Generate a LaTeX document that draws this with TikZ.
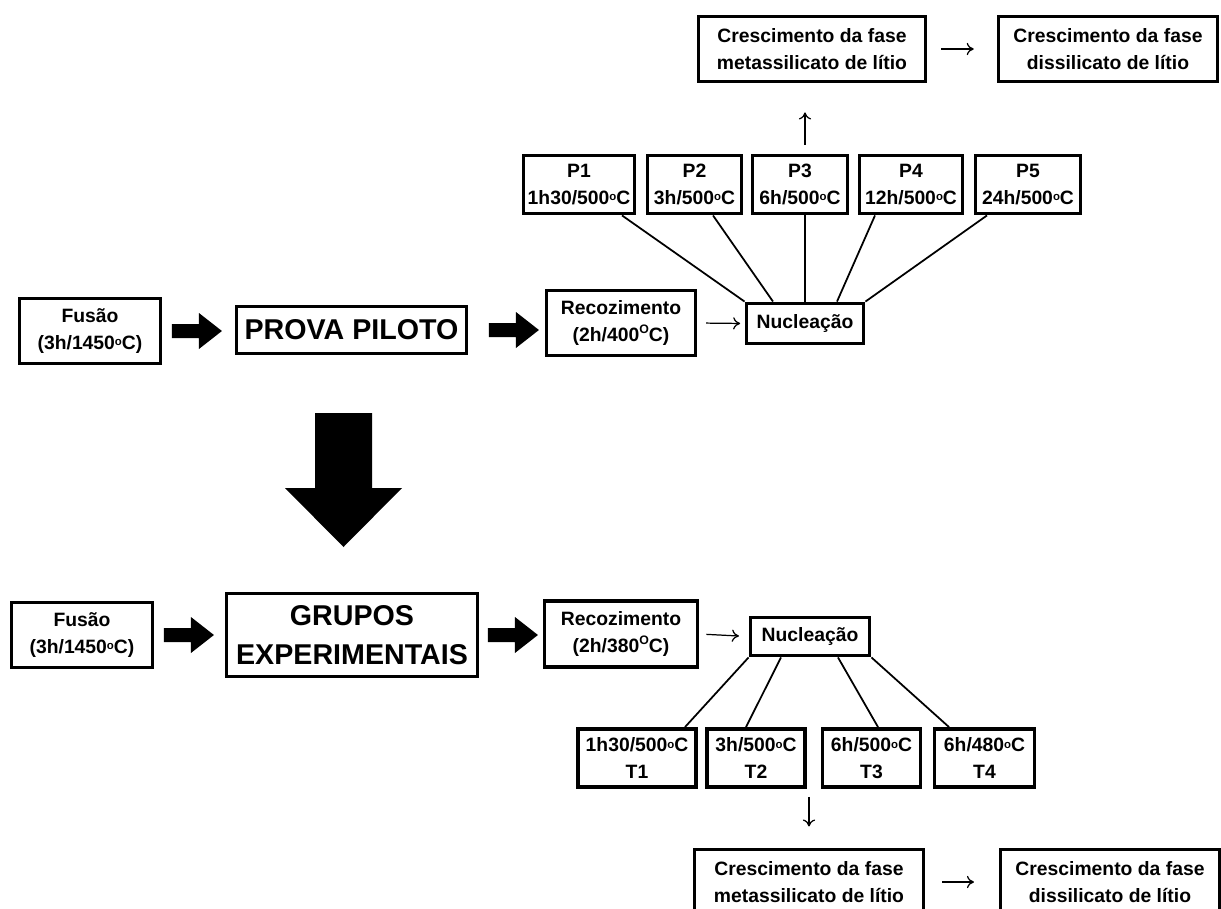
\documentclass[tikz,border=0pt]{standalone}
\usepackage{fontspec}
\setmainfont{Liberation Sans}
\usetikzlibrary{arrows.meta,calc}

\newcommand{\grau}{\raisebox{0.35ex}{\fontsize{6.5}{6.5}\selectfont o}}
\newcommand{\grauO}{\raisebox{0.75ex}{\fontsize{7}{7}\selectfont O}}

\tikzset{
  caixa/.style={draw, line width=2.2pt, align=center, inner sep=0pt,
    font=\bfseries\fontsize{11}{15}\selectfont},
  titulo/.style={caixa, font=\bfseries\fontsize{16.3}{22.5}\selectfont},
  tam/.style 2 args={minimum width=#1*0.02cm, minimum height=#2*0.02cm},
  seta/.style={line width=0.7pt, -{To[length=4pt,width=7pt]}},
  ramo/.style={line width=1pt},
  blk/.pic={\fill (0,-7) -- (27,-7) -- (27,-18) -- (50,0) -- (27,18) -- (27,7) -- (0,7) -- cycle;}
}

\begin{document}
\begin{tikzpicture}[x=0.02cm, y=-0.02cm]
\useasboundingbox (0,0) rectangle (1221,909);

% prova piloto
\node[caixa, tam={141}{65}] (fusA) at (90,331) {Fusão\\(3h/1450\grau C)};
\node[titulo, tam={230}{47}] (prova) at (351.5,330) {PROVA PILOTO};
\node[caixa, tam={149}{65}] (recA) at (621,323) {Recozimento\\(2h/400\grauO C)};
\node[caixa, tam={117}{40}] (nucA) at (805,323.5) {Nucleação};

\node[caixa, tam={111}{58}] (p1) at (579,184.5) {P1\\1h30/500\grau C};
\node[caixa, tam={94}{58}] (p2) at (694.5,184.5) {P2\\3h/500\grau C};
\node[caixa, tam={95}{58}] (p3) at (800,184.5) {P3\\6h/500\grau C};
\node[caixa, tam={103}{58}] (p4) at (911,184.5) {P4\\12h/500\grau C};
\node[caixa, tam={105}{58}] (p5) at (1028,184.5) {P5\\24h/500\grau C};

\node[caixa, tam={227}{65}] (cresA1) at (812,49) {Crescimento da fase\\metassilicato de lítio};
\node[caixa, tam={219}{65}] (cresA2) at (1108,49) {Crescimento da fase\\dissilicato de lítio};

\pic at ($(fusA.east)+(9.5,0)$) {blk};
\pic at ($(prova.east)+(20.5,0)$) {blk};
\draw[seta, shorten <=5pt, shorten >=2.5pt] (recA.east) -- (nucA.west);

\draw[ramo] ($(p1.south)+(43,0)$) -- (nucA.north west);
\draw[ramo] ($(p2.south)+(18.5,0)$) -- ($(nucA.north)+(-32,0)$);
\draw[ramo] (p3.south -| nucA.north) -- (nucA.north);
\draw[ramo] ($(p4.south)+(-36,0)$) -- ($(nucA.north)+(32,0)$);
\draw[ramo] ($(p5.south)+(-41,0)$) -- (nucA.north east);

\draw[seta, shorten <=5pt, shorten >=16.5pt] (p3.north -| nucA.north) -- (cresA1.south -| nucA.north);
\draw[seta, shorten <=8pt, shorten >=13pt] (cresA1.east) -- (cresA2.west);

% seta grande
\fill (315,413) -- (372,413) -- (372,488) -- (402,488) -- (343.5,547) -- (285,488) -- (315,488) -- cycle;

% grupos experimentais
\node[caixa, tam={141}{65}] (fusB) at (82,635) {Fusão\\(3h/1450\grau C)};
\node[titulo, tam={251}{83}] (grupos) at (352,635) {GRUPOS\\EXPERIMENTAIS};
\node[caixa, tam={153}{66}] (recB) at (621,634) {Recozimento\\(2h/380\grauO C)};
\node[caixa, tam={119}{38}] (nucB) at (810,636.5) {Nucleação};

\node[caixa, tam={118}{58}] (t1) at (637,758) {1h30/500\grau C\\T1};
\node[caixa, tam={98}{58}] (t2) at (756,758) {3h/500\grau C\\T2};
\node[caixa, tam={98}{58}] (t3) at (871.5,758) {6h/500\grau C\\T3};
\node[caixa, tam={100}{58}] (t4) at (984.5,758) {6h/480\grau C\\T4};

\node[caixa, tam={229}{65}] (cresB1) at (809,882) {Crescimento da fase\\metassilicato de lítio};
\node[caixa, tam={219}{65}] (cresB2) at (1110,882) {Crescimento da fase\\dissilicato de lítio};

\pic at ($(fusB.east)+(9.5,0)$) {blk};
\pic at ($(grupos.east)+(8.5,0)$) {blk};
\draw[seta, shorten <=4pt, shorten >=5.5pt] (recB.east) -- (nucB.west);

\draw[ramo] (nucB.south west) -- ($(t1.north)+(48,0)$);
\draw[ramo] ($(nucB.south)+(-29,0)$) -- ($(t2.north)+(-10,0)$);
\draw[ramo] ($(nucB.south)+(28,0)$) -- ($(t3.north)+(6.5,0)$);
\draw[ramo] (nucB.south east) -- ($(t4.north)+(-35.5,0)$);

\draw[seta, shorten <=4.5pt, shorten >=12pt] (cresB1.north |- t2.south) -- (cresB1.north);
\draw[seta, shorten <=9.5pt, shorten >=14pt] (cresB1.east) -- (cresB2.west);

\end{tikzpicture}
\end{document}
